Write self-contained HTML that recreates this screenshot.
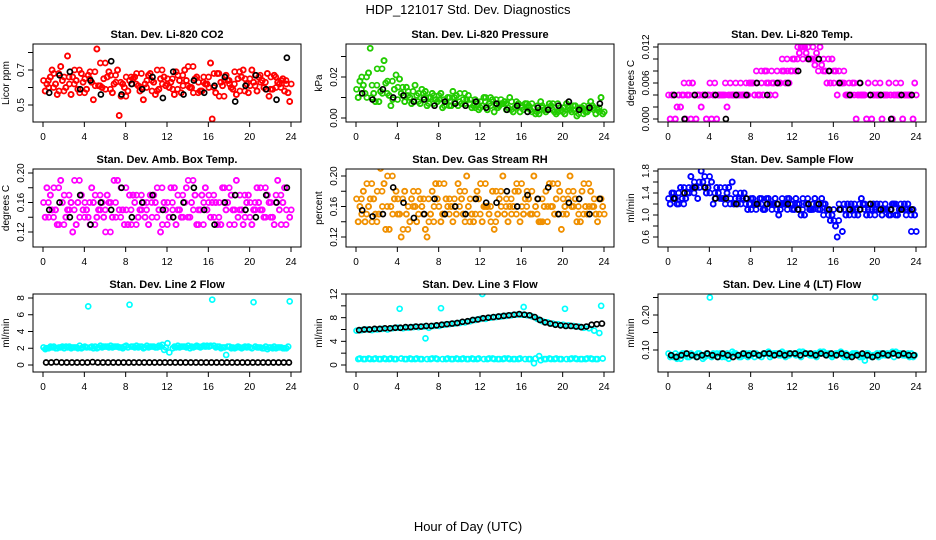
<!DOCTYPE html>
<html><head><meta charset="utf-8"><style>
html,body{margin:0;padding:0;background:#fff}
svg{display:block;font-family:"Liberation Sans",sans-serif}
</style></head><body>
<svg id="chart" width="936" height="540" viewBox="0 0 936 540">
<text x="468" y="14" text-anchor="middle" font-size="13">HDP_121017  Std. Dev. Diagnostics</text>
<text x="468" y="531" text-anchor="middle" font-size="13">Hour of Day (UTC)</text>
</svg>
<script>
// ---- data ----
const xTicks=[0,4,8,12,16,20,24];
const co2A=[0.64,0.60,0.68,0.58,0.66,0.62,0.70,0.57,0.65,0.69,0.61,0.74,0.59,0.67,0.63,0.55,0.66,0.62,0.68,0.60,0.64,0.58,0.70,0.62,0.65,0.59,0.67,0.61,0.72,0.57,0.63,0.66,0.60,0.68,0.55,0.64,0.62,0.69,0.58,0.65,0.61,0.67,0.63,0.59,0.66,0.60,0.64,0.62];
const co2B=[0.58,0.66,0.62,0.72,0.60,0.56,0.64,0.68,0.59,0.63,0.82,0.60,0.66,0.57,0.70,0.62,0.58,0.65,0.61,0.53,0.67,0.63,0.59,0.66,0.60,0.56,0.64,0.70,0.60,0.65,0.58,0.62,0.74,0.57,0.63,0.67,0.60,0.56,0.66,0.62,0.70,0.58,0.64,0.68,0.59,0.63,0.65,0.57];
const co2C=[0.62,0.70,0.56,0.64,0.78,0.66,0.59,0.63,0.67,0.53,0.61,0.65,0.69,0.62,0.44,0.60,0.64,0.66,0.58,0.62,0.68,0.56,0.65,0.61,0.63,0.69,0.57,0.64,0.60,0.66,0.58,0.62,0.42,0.68,0.61,0.64,0.59,0.65,0.70,0.57,0.63,0.66,0.60,0.55,0.67,0.62,0.58,0.52];
const co2K=[0.57,0.67,0.69,0.59,0.64,0.56,0.75,0.56,0.62,0.59,0.66,0.54,0.69,0.56,0.64,0.57,0.61,0.66,0.52,0.61,0.67,0.59,0.53,0.77];
const presA=[0.014,0.020,0.010,0.016,0.024,0.012,0.018,0.009,0.015,0.011,0.013,0.008,0.012,0.010,0.007,0.011,0.009,0.006,0.010,0.008,0.012,0.007,0.009,0.005,0.008,0.010,0.006,0.009,0.007,0.004,0.008,0.006,0.005,0.007,0.003,0.006,0.005,0.004,0.007,0.003,0.005,0.006,0.004,0.002,0.006,0.004,0.005,0.003];
const presB=[0.010,0.016,0.022,0.012,0.008,0.028,0.011,0.014,0.019,0.008,0.010,0.016,0.007,0.013,0.010,0.009,0.012,0.008,0.006,0.011,0.007,0.009,0.005,0.008,0.006,0.004,0.009,0.005,0.007,0.005,0.003,0.007,0.004,0.006,0.005,0.002,0.004,0.007,0.003,0.005,0.002,0.004,0.006,0.005,0.003,0.008,0.002,0.010];
const presC=[0.018,0.012,0.034,0.008,0.013,0.017,0.006,0.021,0.012,0.015,0.007,0.011,0.014,0.006,0.012,0.008,0.005,0.010,0.013,0.006,0.009,0.011,0.006,0.004,0.010,0.007,0.003,0.006,0.008,0.010,0.005,0.003,0.007,0.004,0.002,0.008,0.003,0.006,0.002,0.004,0.007,0.003,0.001,0.005,0.003,0.006,0.004,0.002];
const presK=[0.012,0.009,0.014,0.010,0.011,0.008,0.009,0.006,0.008,0.007,0.006,0.008,0.005,0.007,0.004,0.006,0.003,0.005,0.004,0.006,0.008,0.004,0.005,0.007];
const tempA=[0.004,0.004,0.004,0.006,0.004,0.004,0.004,0.004,0.006,0.004,0.004,0.006,0.004,0.006,0.004,0.006,0.006,0.008,0.006,0.008,0.006,0.008,0.010,0.008,0.010,0.012,0.010,0.012,0.010,0.008,0.010,0.008,0.006,0.008,0.006,0.004,0.006,0.004,0.004,0.004,0.006,0.004,0.004,0.004,0.006,0.004,0.004,0.004];
const tempB=[0,0,0.002,0,0,0,0.002,0,0,0,0.004,0.002,0.004,0.004,0.004,0.004,0.006,0.004,0.004,0.006,0.006,0.006,0.008,0.006,0.010,0.011,0.012,0.010,0.009,0.012,0.008,0.006,0.008,0.006,0.004,0.004,0,0.004,0,0,0.004,0,0.004,0,0.004,0,0.004,0];
const tempC=[0.004,0.002,0.004,0.004,0.006,0.004,0.004,0.004,0.004,0.004,0.004,0.004,0.004,0.004,0.004,0.006,0.004,0.004,0.008,0.004,0.004,0.006,0.006,0.008,0.008,0.012,0.011,0.010,0.011,0.009,0.006,0.010,0.004,0.006,0.004,0.006,0.004,0.004,0.006,0.004,0.004,0.004,0.006,0.004,0.004,0.004,0.004,0.006];
const tempK=[0.004,0,0.004,0.004,0.004,0,0.004,0.004,0.006,0.004,0.006,0.006,0.008,0.010,0.010,0.008,0.006,0.004,0.006,0.004,0.004,0,0.004,0.004];
const ambA=[0.16,0.14,0.18,0.13,0.17,0.15,0.19,0.14,0.16,0.13,0.17,0.15,0.12,0.16,0.14,0.18,0.15,0.13,0.17,0.15,0.16,0.14,0.18,0.13,0.16,0.15,0.17,0.14,0.19,0.15,0.13,0.16,0.17,0.14,0.16,0.18,0.13,0.15,0.17,0.14,0.16,0.15,0.18,0.14,0.16,0.17,0.13,0.15];
const ambB=[0.14,0.17,0.15,0.19,0.14,0.16,0.13,0.17,0.15,0.18,0.14,0.16,0.17,0.14,0.19,0.15,0.13,0.17,0.14,0.16,0.13,0.17,0.15,0.16,0.14,0.18,0.15,0.16,0.14,0.17,0.15,0.18,0.14,0.16,0.13,0.15,0.17,0.19,0.15,0.16,0.13,0.18,0.15,0.17,0.14,0.19,0.16,0.21];
const ambC=[0.18,0.15,0.13,0.16,0.15,0.12,0.16,0.15,0.14,0.16,0.15,0.14,0.16,0.19,0.15,0.13,0.17,0.16,0.15,0.14,0.17,0.16,0.12,0.15,0.18,0.13,0.14,0.18,0.16,0.13,0.17,0.15,0.16,0.13,0.18,0.16,0.15,0.14,0.13,0.17,0.15,0.16,0.14,0.16,0.13,0.15,0.18,0.14];
const ambK=[0.15,0.16,0.14,0.17,0.13,0.16,0.15,0.18,0.14,0.16,0.17,0.15,0.14,0.16,0.18,0.15,0.13,0.16,0.17,0.15,0.14,0.17,0.16,0.18];
const rhA=[0.17,0.15,0.19,0.14,0.18,0.16,0.20,0.15,0.17,0.13,0.16,0.18,0.15,0.17,0.14,0.16,0.19,0.15,0.17,0.16,0.18,0.14,0.17,0.15,0.19,0.16,0.14,0.18,0.16,0.17,0.15,0.19,0.16,0.18,0.15,0.17,0.14,0.16,0.19,0.15,0.17,0.18,0.16,0.15,0.19,0.16,0.17,0.15];
const rhB=[0.14,0.18,0.16,0.17,0.15,0.19,0.13,0.17,0.15,0.18,0.14,0.16,0.17,0.13,0.15,0.19,0.14,0.17,0.16,0.15,0.17,0.20,0.15,0.18,0.14,0.16,0.18,0.15,0.20,0.14,0.16,0.18,0.15,0.17,0.20,0.14,0.16,0.19,0.15,0.18,0.16,0.20,0.17,0.14,0.16,0.18,0.15,0.17];
const rhC=[0.16,0.14,0.17,0.15,0.21,0.13,0.16,0.18,0.12,0.15,0.17,0.14,0.16,0.12,0.18,0.17,0.15,0.16,0.14,0.19,0.15,0.16,0.14,0.17,0.16,0.15,0.13,0.17,0.15,0.16,0.18,0.14,0.17,0.15,0.16,0.14,0.18,0.16,0.17,0.13,0.15,0.16,0.14,0.18,0.15,0.16,0.14,0.16];
const rhK=[0.155,0.147,0.15,0.185,0.165,0.145,0.15,0.17,0.15,0.16,0.15,0.17,0.165,0.165,0.18,0.16,0.175,0.17,0.185,0.15,0.165,0.17,0.15,0.17];
const sfA=[1.3,1.4,1.2,1.5,1.4,1.6,1.5,1.7,1.4,1.3,1.5,1.2,1.3,1.4,1.2,1.3,1.1,1.2,1.3,1.2,1.1,1.2,1.3,1.1,1.2,1.1,1.3,1.2,1.1,1.2,1.0,1.1,0.9,1.2,1.1,1.0,1.2,1.1,1.2,1.0,1.1,1.2,1.1,1.0,1.2,1.1,1.0,0.7];
const sfB=[1.2,1.3,1.5,1.3,1.7,1.5,1.8,1.4,1.6,1.5,1.3,1.4,1.6,1.2,1.3,1.1,1.3,1.2,1.1,1.3,1.2,1.0,1.2,1.3,1.1,1.2,1.0,1.1,1.3,1.1,1.2,0.9,0.8,1.1,1.0,1.2,1.1,1.3,1.0,1.1,1.2,1.0,1.1,1.2,1.0,1.1,1.2,1.1];
const sfC=[1.4,1.2,1.3,1.4,1.5,1.3,1.6,1.5,1.2,1.4,1.3,1.5,1.2,1.3,1.4,1.2,1.2,1.3,1.1,1.2,1.3,1.1,1.2,1.2,1.3,1.0,1.2,1.1,1.2,1.3,1.1,1.0,0.6,0.7,1.2,1.1,1.0,1.2,1.1,1.2,1.1,1.1,1.0,1.2,1.1,1.2,1.1,1.0];
const sfK=[1.3,1.4,1.5,1.5,1.3,1.3,1.2,1.3,1.2,1.2,1.2,1.2,1.1,1.2,1.2,1.1,1.1,1.1,1.1,1.2,1.1,1.1,1.1,1.1];
const l2A=[2.1,2.0,2.2,2.1,2.0,2.2,2.1,2.3,2.2,2.1,2.2,2.3,2.2,2.3,2.2,2.1,2.3,2.2,2.3,2.2,2.3,2.2,2.1,2.4,2.6,2.0,2.3,2.2,2.3,2.1,2.2,2.3,2.2,2.3,2.2,2.1,2.2,2.0,2.1,2.2,2.1,2.2,2.1,2.2,2.1,2.0,2.1,2.0];
const l2B=[1.9,2.2,2.0,2.1,2.2,2.0,2.1,2.0,2.1,2.2,2.0,2.1,2.2,2.1,2.2,2.0,2.1,2.2,2.1,2.0,2.1,2.2,2.3,1.8,1.5,2.2,2.1,2.2,2.0,2.2,2.1,2.2,2.3,2.1,2.0,1.2,2.0,2.1,2.0,2.1,2.0,2.1,2.0,1.9,2.0,2.1,2.0,2.2];
const l2C=[2.0,2.1,2.0,2.2,2.1,2.1,2.0,2.1,7.0,2.0,2.1,2.2,2.1,2.2,2.1,2.2,7.2,2.1,2.2,2.1,2.2,2.1,2.2,2.1,9.0,2.1,2.2,2.1,2.2,2.3,2.2,2.3,7.8,2.2,2.1,2.2,2.1,2.2,2.1,2.2,7.5,2.1,2.0,2.1,2.2,2.1,2.0,7.6];
const l2K=[0.3,0.3,0.35,0.3,0.3,0.3,0.3,0.3,0.3,0.35,0.3,0.3,0.3,0.3,0.3,0.3,0.3,0.3,0.3,0.3,0.3,0.3,0.3,0.3,0.3,0.3,0.3,0.3,0.3,0.3,0.3,0.3,0.3,0.3,0.3,0.3,0.3,0.3,0.3,0.3,0.3,0.3,0.3,0.3,0.3,0.3,0.3,0.3];
const l3A=[5.8,5.9,6.0,5.9,6.0,6.1,6.0,6.2,6.3,6.2,6.3,6.4,6.4,6.5,6.3,6.6,6.6,6.8,6.9,7.0,7.1,7.2,7.4,7.6,7.8,7.8,8.0,8.1,8.2,8.3,8.4,8.5,8.5,8.4,8.2,7.8,7.4,7.2,7.0,6.9,6.8,6.7,6.6,6.5,6.3,6.2,5.8,5.4];
const l3B=[1.0,1.0,1.1,1.0,1.0,1.1,1.0,1.0,9.5,1.0,1.1,1.0,1.0,4.5,1.0,1.1,9.6,1.0,1.0,1.1,1.0,1.0,1.1,1.0,12.0,1.0,1.1,1.0,1.0,1.1,1.0,1.0,9.8,1.0,0.3,1.5,1.0,1.1,1.0,1.0,9.5,1.0,1.1,1.0,1.0,1.1,1.0,10.0];
const l3C=[1.1,1.0,1.0,1.1,1.0,1.0,1.1,1.0,1.1,1.0,1.0,1.1,1.0,1.0,1.1,1.0,1.0,1.1,1.0,1.0,1.1,1.0,1.0,1.1,1.0,1.1,1.0,1.0,1.1,1.0,1.0,1.1,1.0,1.0,1.1,0.8,1.0,1.0,1.1,1.0,1.0,1.1,1.0,1.0,1.1,1.0,1.0,1.1];
const l3K=[5.9,6.0,6.0,6.1,6.1,6.2,6.2,6.3,6.3,6.4,6.4,6.5,6.5,6.6,6.6,6.7,6.8,6.9,7.0,7.1,7.3,7.4,7.6,7.7,7.9,8.0,8.1,8.2,8.3,8.4,8.5,8.6,8.5,8.4,8.1,7.6,7.2,7.0,6.8,6.7,6.6,6.6,6.5,6.4,6.5,6.8,6.9,7.0];
const l4A=[0.09,0.08,0.085,0.09,0.08,0.085,0.09,0.08,0.25,0.085,0.09,0.08,0.085,0.09,0.08,0.09,0.085,0.09,0.08,0.09,0.085,0.09,0.095,0.09,0.27,0.09,0.095,0.09,0.085,0.09,0.095,0.09,0.085,0.09,0.08,0.085,0.09,0.08,0.07,0.085,0.25,0.09,0.085,0.09,0.095,0.09,0.085,0.09];
const l4B=[0.08,0.09,0.075,0.085,0.09,0.08,0.085,0.09,0.08,0.09,0.08,0.09,0.095,0.085,0.09,0.08,0.09,0.085,0.09,0.095,0.09,0.085,0.09,0.085,0.09,0.095,0.09,0.085,0.09,0.095,0.09,0.085,0.09,0.095,0.09,0.085,0.09,0.085,0.09,0.08,0.09,0.085,0.09,0.095,0.09,0.085,0.09,0.08];
const l4C=[0.085,0.075,0.09,0.08,0.085,0.09,0.075,0.085,0.09,0.08,0.085,0.075,0.09,0.08,0.085,0.09,0.08,0.085,0.09,0.08,0.09,0.085,0.08,0.09,0.085,0.08,0.09,0.085,0.08,0.09,0.085,0.08,0.09,0.085,0.08,0.09,0.085,0.08,0.09,0.085,0.08,0.09,0.085,0.08,0.09,0.085,0.08,0.085];
const l4K=[0.085,0.08,0.085,0.09,0.085,0.08,0.085,0.09,0.085,0.08,0.09,0.085,0.08,0.085,0.09,0.085,0.09,0.085,0.09,0.09,0.085,0.09,0.085,0.09,0.09,0.085,0.09,0.09,0.085,0.09,0.085,0.09,0.085,0.09,0.085,0.08,0.085,0.09,0.085,0.08,0.085,0.09,0.085,0.09,0.085,0.09,0.085,0.085];
const yTicks1=[0.5,0.6,0.7,0.8], yLab1=["0.5","","0.7",""];
const yTicks2=[0,0.01,0.02,0.03], yLab2=["0.00","","0.02",""];
const yTicks3=[0,0.002,0.004,0.006,0.008,0.010,0.012], yLab3=["0.000","","","0.006","","","0.012"];
const yTicks4=[0.12,0.14,0.16,0.18,0.20], yLab4=["0.12","","0.16","","0.20"];
const yTicks6=[0.6,0.8,1.0,1.2,1.4,1.6,1.8], yLab6=["0.6","","1.0","","1.4","","1.8"];
const yTicks7=[0,2,4,6,8], yLab7=["0","2","4","6","8"];
const yTicks8=[0,2,4,6,8,10,12], yLab8=["0","","4","","8","","12"];
const yTicks9=[0.10,0.15,0.20,0.25], yLab9=["0.10","","0.20",""];

// ---- layout ----
const NS="http://www.w3.org/2000/svg";
const svg=document.getElementById('chart');
const colL=[33,346,658], boxW=268, rowT=[44,169,294], boxH=78;
function mk(tag,attrs,parent){const e=document.createElementNS(NS,tag);for(const k in attrs)e.setAttribute(k,attrs[k]);parent.appendChild(e);return e;}
const panels=[
 {t:"Stan. Dev. Li-820 CO2",yl:"Licor ppm",c:0,r:0,ref:[0.5,61,0.7,26],ticks:yTicks1,labs:yLab1,col:"#ff0000",s:[co2A,co2B,co2C],k:co2K,dense:true},
 {t:"Stan. Dev. Li-820 Pressure",yl:"kPa",c:1,r:0,ref:[0,74,0.02,33],ticks:yTicks2,labs:yLab2,col:"#22cc00",s:[presA,presB,presC],k:presK,dense:true},
 {t:"Stan. Dev. Li-820 Temp.",yl:"degrees C",c:2,r:0,ref:[0,75,0.012,3],ticks:yTicks3,labs:yLab3,col:"#ff00ff",s:[tempA,tempB,tempC],k:tempK,dense:true},
 {t:"Stan. Dev. Amb. Box Temp.",yl:"degrees C",c:0,r:1,ref:[0.12,63,0.20,4],ticks:yTicks4,labs:yLab4,col:"#ff00ff",s:[ambA,ambB,ambC],k:ambK,dense:true},
 {t:"Stan. Dev. Gas Stream RH",yl:"percent",c:1,r:1,ref:[0.12,68,0.20,7],ticks:yTicks4,labs:yLab4,col:"#f09000",s:[rhA,rhB,rhC],k:rhK,dense:true},
 {t:"Stan. Dev. Sample Flow",yl:"ml/min",c:2,r:1,ref:[0.6,68,1.8,2],ticks:yTicks6,labs:yLab6,col:"#0000ff",s:[sfA,sfB,sfC],k:sfK,dense:true},
 {t:"Stan. Dev. Line 2 Flow",yl:"ml/min",c:0,r:2,ref:[0,71,8,4],ticks:yTicks7,labs:yLab7,col:"#00ffff",s:[l2A,l2B,l2C],k:l2K,dense:false},
 {t:"Stan. Dev. Line 3 Flow",yl:"ml/min",c:1,r:2,ref:[0,71,12,0],ticks:yTicks8,labs:yLab8,col:"#00ffff",s:[l3A,l3B,l3C],k:l3K,dense:false},
 {t:"Stan. Dev. Line 4 (LT) Flow",yl:"ml/min",c:2,r:2,ref:[0.10,56,0.20,21],ticks:yTicks9,labs:yLab9,col:"#00ffff",s:[l4A,l4B,l4C],k:l4K,dense:false}
];
panels.forEach((p,pi)=>{
  const L=colL[p.c],T=rowT[p.r];
  const g=mk('g',{},svg);
  
  
  const xs=h=>L+10+h*(boxW-20)/24;
  const ys=v=>T+p.ref[1]+(v-p.ref[0])*(p.ref[3]-p.ref[1])/(p.ref[2]-p.ref[0]);
  const title=mk('text',{x:L+boxW/2,y:T-6,'text-anchor':'middle','font-size':11,'font-weight':'bold'},g);
  title.textContent=p.t;
  
  
  const cid='clip'+pi;
  const cp=mk('clipPath',{id:cid},g);mk('rect',{x:L,y:T,width:boxW,height:boxH},cp);
  const pts=mk('g',{'clip-path':'url(#'+cid+')',fill:'none','stroke-width':1.7},g);
  
  
  p.s.forEach((arr,si)=>{
    const off=[0.1,0.45,0.75][si];
    arr.forEach((v,i)=>{
      const c=mk('circle',{cx:xs((i+off)*24/arr.length),cy:ys(v),r:2.5,stroke:p.col},pts);
      
      
    });
    if(p.dense){
      // extra pass: neighbouring sample set plotted at interleaved times (denser cloud, same trend)
      const nxt=p.s[(si+1)%p.s.length];
      nxt.forEach((v,i)=>{
        const c=mk('circle',{cx:xs((i+off+0.3)*24/nxt.length),cy:ys(v),r:2.5,stroke:p.col},pts);
        
        
      });
    }
  });
  p.k.forEach((v,i)=>{
    const c=mk('circle',{cx:xs((i+0.6)*24/p.k.length),cy:ys(v),r:2.5,stroke:'#000'},pts);
    
    
  });
  const box=mk('rect',{x:L,y:T,width:boxW,height:boxH,fill:'none',stroke:'#000','stroke-width':1},g);
  
  
  const B=T+boxH;
  mk('line',{x1:xs(0),x2:xs(24),y1:B,y2:B,stroke:'#000'},g);
  xTicks.forEach(h=>{
    mk('line',{x1:xs(h),x2:xs(h),y1:B,y2:B+5,stroke:'#000'},g);
    const t=mk('text',{x:xs(h),y:B+18,'text-anchor':'middle','font-size':10},g);t.textContent=h;
    
    
  });
  mk('line',{x1:L,x2:L,y1:ys(p.ticks[0]),y2:ys(p.ticks[p.ticks.length-1]),stroke:'#000'},g);
  p.ticks.forEach((v,i)=>{
    const y=ys(v);
    mk('line',{x1:L-5,x2:L,y1:y,y2:y,stroke:'#000'},g);
    if(p.labs[i]){const t=mk('text',{x:L-9,y:y,'text-anchor':'middle','font-size':10,transform:'rotate(-90 '+(L-9)+' '+y+')'},g);t.textContent=p.labs[i];
      
      }
  });
  const yl=mk('text',{x:L-24,y:T+boxH/2,'text-anchor':'middle','font-size':10,transform:'rotate(-90 '+(L-24)+' '+(T+boxH/2)+')'},g);
  yl.textContent=p.yl;
  
  
});
</script>
</body></html>
